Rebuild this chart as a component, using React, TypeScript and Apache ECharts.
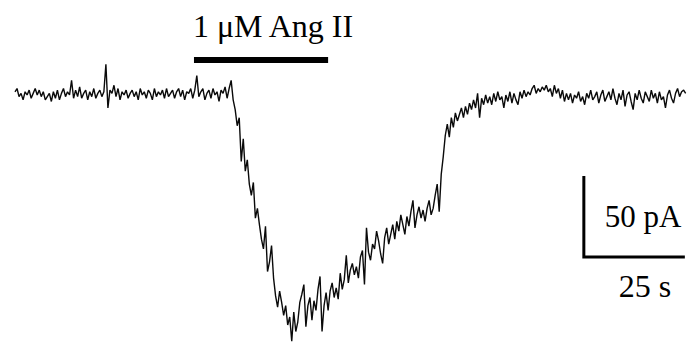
import React, { useEffect, useRef } from "react";
import * as echarts from "echarts";

// Sampling interval of the recorded trace (s)
const SAMPLE_DT = 0.5;

// Membrane current trace (pA), one value per 0.5 s sample
const currentPA: number[] = [
  // baseline before Ang II
  2, 4, -1, 1, -3, 2, 0, 3, -2, 1,
  4, 0, 3, -1, 2, -3, -1, 1, -4, 2,
  -2, 3, -3, 1, 4, -1, 2, 0, 9, -2,
  3, -1, 5, -2, 1, 3, -3, 2, -1, 4,
  -2, 1, 3, -1, 2, 19, -8, 3, 1, 6,
  -1, 4, -3, 2, 0, 3, -2, 1, 3, -1,
  2, -3, 4, 0, 2, -2, 3, 1, -3, 4,
  -1, 2, 0, 3, -2, 4, -1, 1, 3, -2,
  2, 4, -1, 3, -3, 2, 1, 4, -2, 3,
  12, -1, 2, 4, -3, 1, 3, -2, 4, 0,
  2, -4, 3, 1, 5, -2, 4,
  // onset and descent
  9, -3, -9, -19, -14, -41, -27, -47, -40, -55,
  -62, -54, -76, -70, -80, -89, -95, -81, -109, -103,
  -93, -113, -124, -131, -121, -128, -136, -130, -142, -137,
  -152, -134, -146, -140, -128,
  // slow recovery
  -123, -117, -143, -130, -125, -139, -127, -133, -120, -112,
  -146, -130, -122, -133, -121, -116, -125, -119, -126, -110,
  -120, -114, -99, -116, -108, -104, -111, -106, -113, -100,
  -96, -117, -82, -97, -102, -92, -95, -84,
  -90, -98, -104, -88, -82, -92, -86, -80, -89, -78,
  -84, -74, -80, -86, -75, -81, -72, -65, -82, -74,
  -69, -76, -71, -78, -70, -65, -74, -70, -62, -55,
  -72, -49, -38, -25, -18, -26, -14, -20, -11, -16,
  -12,
  // return to baseline
  -8, -14, -7, -12, -5, -9, -3, -8, 1, -14,
  -2, -6, 0, -5, -1, -6, 1, -4, 2, -3,
  -1, -8, 0, -4, 2, -5, 1, -3, -6, 2,
  -2, 3, -1, 2, 0, 4, 6, 1, 4, 2,
  5, 3, 6, 2, 4, -1, 6, 1, 4, -2,
  3, -4, 1,
  -3, 1, -5, 0, -2, 2, -4, -1, -6, 1,
  -2, 3, -3, -1, 2, -5, 0, 3, -4, -1,
  2, -3, 4, -2, -6, 1, -3, 3, -7, 0,
  2, -4, -9, 1, -3, 3, -2, -5, 2, -1,
  -4, 3, -2, 1, -5, 2, -3, -1, -8, 0,
  3, -2, -5, 1, 4, -1, 2, 3, 1,
];

// Drug application bar: start/end time (s) and level (pA)
const drugBarTimes: number[] = [44.3, 77.5];
const drugBarLevel = 21.6;
const drugLabel = "1 μM Ang II";

// Scale bars
const scaleOrigin: number[] = [140.8, -100]; // corner (s, pA)
const scaleCurrentPA = 50;
const scaleTimeS = 25;
const scaleCurrentLabel = "50 pA";
const scaleTimeLabel = "25 s";

export default function App() {
  const ref = useRef<HTMLDivElement>(null);

  useEffect(() => {
    if (!ref.current) return;
    const chart = echarts.init(ref.current, null, { renderer: "svg" });

    const traceData = currentPA.map((v, i) => [i * SAMPLE_DT, v]);
    const drugBar = drugBarTimes.map((t) => [t, drugBarLevel]);
    const [t0, c0] = scaleOrigin;
    const scaleBars = [
      [t0, c0 + scaleCurrentPA],
      [t0, c0],
      [t0 + scaleTimeS, c0],
    ];

    const font = "'Liberation Serif', 'Times New Roman', serif";

    chart.setOption({
      animation: false,
      backgroundColor: "#ffffff",
      grid: { left: 15, right: 0, top: 0, bottom: 0 },
      xAxis: {
        type: "value",
        min: 0,
        max: 166.58,
        show: false,
      },
      yAxis: {
        type: "value",
        min: -154.32,
        max: 58.64,
        show: false,
      },
      series: [
        {
          type: "line",
          data: traceData,
          showSymbol: false,
          symbol: "none",
          lineStyle: { color: "#0a0a0a", width: 1.4 },
          z: 2,
        },
        {
          type: "line",
          data: drugBar,
          showSymbol: false,
          symbol: "none",
          lineStyle: { color: "#000000", width: 6, cap: "butt" },
          z: 3,
        },
        {
          type: "line",
          data: scaleBars,
          showSymbol: false,
          symbol: "none",
          lineStyle: { color: "#000000", width: 3, cap: "butt", join: "miter" },
          z: 3,
        },
      ],
      graphic: [
        {
          type: "text",
          x: 273,
          y: 26,
          style: {
            text: drugLabel,
            font: `32px ${font}`,
            fill: "#000",
            align: "center",
            verticalAlign: "middle",
          },
        },
        {
          type: "text",
          x: 643,
          y: 216,
          style: {
            text: scaleCurrentLabel,
            font: `31px ${font}`,
            fill: "#000",
            align: "center",
            verticalAlign: "middle",
          },
        },
        {
          type: "text",
          x: 645,
          y: 286,
          style: {
            text: scaleTimeLabel,
            font: `32px ${font}`,
            fill: "#000",
            align: "center",
            verticalAlign: "middle",
          },
        },
      ],
    });

    return () => chart.dispose();
  }, []);

  return (
    <div
      ref={ref}
      style={{ position: "fixed", left: 0, top: 0, width: 688, height: 345 }}
    />
  );
}
